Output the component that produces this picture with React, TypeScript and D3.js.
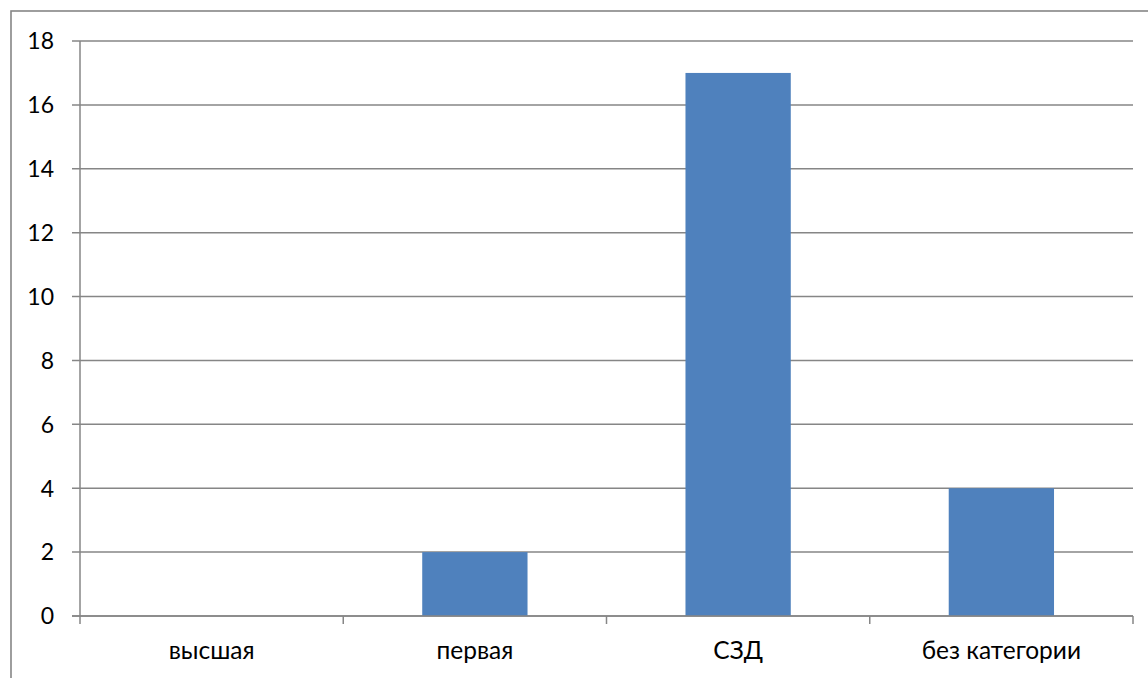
import React from "react";
import * as d3 from "d3";

const categories = ["высшая", "первая", "СЗД", "без категории"];
const values = [0, 2, 17, 4];
const yTicks = [0, 2, 4, 6, 8, 10, 12, 14, 16, 18];

const W = 1148;
const H = 678;
const FONT = "Lato, 'Noto Sans', 'DejaVu Sans', sans-serif";

export default function App() {
  const x = d3.scaleBand<string>().domain(categories).range([80, 1133]).paddingInner(0.6).paddingOuter(0.3);
  const y = d3.scaleLinear().domain([0, 18]).range([616, 41]);
  const step = x.step();
  const x0 = 80;
  const boundaries = d3.range(categories.length + 1).map((i) => x0 + i * step);
  const grid = "#868686";
  return (
    <svg width={W} height={H} style={{ position: "absolute", left: 0, top: 0, background: "#fff" }} fontFamily={FONT}>
      <rect x={11} y={11} width={W + 20} height={H + 20} fill="#fff" stroke={grid} strokeWidth={1.6} />
      {yTicks.map((t) => (
        <g key={t}>
          <line x1={72} x2={1133} y1={y(t)} y2={y(t)} stroke={grid} strokeWidth={1.5} />
          <text x={54} y={y(t)} dy="0.36em" textAnchor="end" fontSize={23} fill="#000">
            {t}
          </text>
        </g>
      ))}
      {categories.map((c, i) => (
        <rect key={c} x={x(c)} y={y(values[i])} width={x.bandwidth()} height={y(0) - y(values[i])} fill="#4F81BD" />
      ))}
      <line x1={80} x2={80} y1={y(18)} y2={y(0)} stroke={grid} strokeWidth={1.5} />
      <line x1={72} x2={1133} y1={y(0)} y2={y(0)} stroke={grid} strokeWidth={1.5} />
      {boundaries.map((b, i) => (
        <line key={i} x1={b} x2={b} y1={y(0)} y2={y(0) + 8} stroke={grid} strokeWidth={1.5} />
      ))}
      {categories.map((c) => (
        <text key={c} x={(x(c) ?? 0) + x.bandwidth() / 2} y={659} textAnchor="middle" fontSize={24.5} fill="#000">
          {c}
        </text>
      ))}
    </svg>
  );
}
